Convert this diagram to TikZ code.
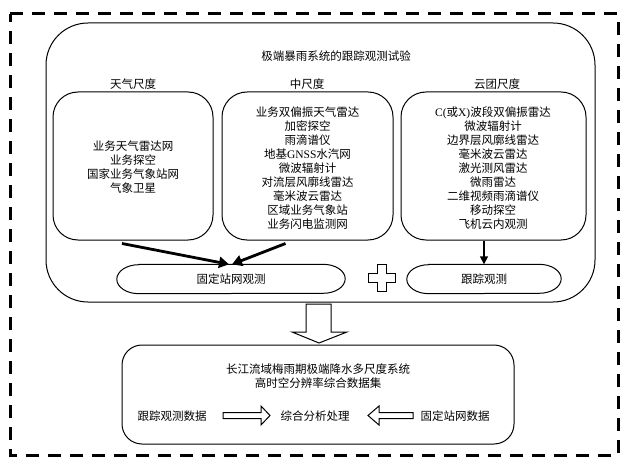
\documentclass[tikz,border=0pt]{standalone}
\usepackage{fontspec}
\setmainfont{Liberation Serif}
\newfontfamily\cjk{Noto Sans CJK SC}
\usetikzlibrary{arrows.meta}

\begin{document}
\begin{tikzpicture}[x=1pt,y=1pt,
  every node/.style={font=\cjk\fontsize{11.5}{14}\selectfont, align=center, inner sep=0pt},
  scalebox/.style={draw, line width=1pt, rounded corners=25pt, minimum height=148pt},
  pill/.style={minimum width=#1, minimum height=29pt},
  bold arrow/.style={line width=2.8pt, -{Triangle[length=10pt,width=11pt]}},
  hollow/.style={draw, line width=1pt, fill=white}]
\useasboundingbox (0,0) rectangle (634,464);
% outer frame
\draw[line width=3pt, dash pattern=on 13pt off 9pt] (10,450) -- (618,450) -- (618,9) -- (10,9) -- cycle;
% tracking experiment
\node[draw, line width=1pt, rounded corners=42pt, minimum width=549pt, minimum height=279pt] (trial) at (320.5,301.5) {};
\node (title) at (336,408) {极端暴雨系统的跟踪观测试验};
\node (synop) at (133,380) {天气尺度};
\node (meso) at (307,380) {中尺度};
\node (cloud) at (497,380) {云团尺度};
\node[scalebox, minimum width=160pt] (synbox) at (133,298) {};
\node[scalebox, minimum width=171pt] (mesobox) at (307.5,298) {};
\node[scalebox, minimum width=185pt] (cloudbox) at (493.5,298) {};
\node at (133,297) {业务天气雷达网\\业务探空\\国家业务气象站网\\气象卫星};
\node at (307.5,296) {业务双偏振天气雷达\\加密探空\\雨滴谱仪\\地基{\rmfamily GNSS}水汽网\\微波辐射计\\
  对流层风廓线雷达\\毫米波云雷达\\区域业务气象站\\业务闪电监测网};
\node at (493,296) {{\rmfamily C(}或{\rmfamily X)}波段双偏振雷达\\微波辐射计\\边界层风廓线雷达\\毫米波云雷达\\激光测风雷达\\
  微雨雷达\\二维视频雨滴谱仪\\移动探空\\飞机云内观测};
\node[pill=228pt] (fixed) at (231,185) {固定站网观测};
\node[pill=154pt] (track) at (484,185) {跟踪观测};
\foreach \n in {fixed,track} {
\draw[line width=1pt] ([xshift=22pt]\n.north west) -- ([xshift=-22pt]\n.north east)
  arc[start angle=90,end angle=-90,x radius=22pt,y radius=14.5pt] -- ([xshift=22pt]\n.south west)
  arc[start angle=270,end angle=90,x radius=22pt,y radius=14.5pt] -- cycle;
}
\draw[bold arrow] ([shift={(-11pt,-3pt)}]synbox.south) -- ([xshift=-2pt]fixed.north);
\draw[bold arrow] ([shift={(-22pt,-3pt)}]mesobox.south) -- ([xshift=1pt]fixed.north);
\draw[line width=1.5pt, -{Triangle[length=8pt,width=8pt]}] (track.north |- cloudbox.south) -- (track.north);
% plus
\draw[hollow] (377.5,199.5) -- (386.5,199.5) -- (386.5,190.5) -- (395.5,190.5) -- (395.5,181.5) -- (386.5,181.5)
  -- (386.5,172.5) -- (377.5,172.5) -- (377.5,181.5) -- (368.5,181.5) -- (368.5,190.5) -- (377.5,190.5) -- cycle;
% down to data set
\draw[hollow] (306,160) -- (331,160) -- (331,132) -- (347,132) -- (319,121) -- (292,132) -- (306,132) -- cycle;
\node[draw, line width=1pt, rounded corners=20pt, minimum width=392pt, minimum height=99pt] (dataset) at (318,69.5) {};
\node (dstitle) at (318,88) {长江流域梅雨期极端降水多尺度系统\\高时空分辨率综合数据集};
\node (trackdata) at (172,48) {跟踪观测数据};
\node (analysis) at (315,48) {综合分析处理};
\node (fixeddata) at (455,48) {固定站网数据};
\draw[hollow] (223,51.5) -- (261,51.5) -- (261,58) -- (270,48.5) -- (261,39) -- (261,45.5) -- (223,45.5) -- cycle;
\draw[hollow] (413,51.5) -- (379,51.5) -- (379,58) -- (368,48.5) -- (379,39) -- (379,45.5) -- (413,45.5) -- cycle;
\end{tikzpicture}
\end{document}
